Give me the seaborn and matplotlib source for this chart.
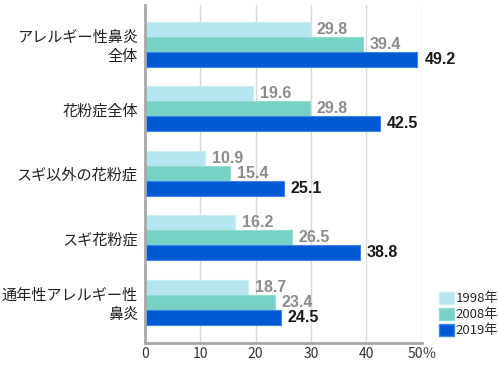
import pandas as pd
import seaborn as sns
import matplotlib.pyplot as plt
from matplotlib.patches import Patch

sns.set_style('white')
plt.rcParams['font.family'] = ['Liberation Sans', 'Noto Sans CJK JP', 'DejaVu Sans']

categories = ['アレルギー性鼻炎\n全体', '花粉症全体', 'スギ以外の花粉症', 'スギ花粉症', '通年性アレルギー性\n鼻炎']
years = ['1998年', '2008年', '2019年']
values_1998 = [29.8, 19.6, 10.9, 16.2, 18.7]
values_2008 = [39.4, 29.8, 15.4, 26.5, 23.4]
values_2019 = [49.2, 42.5, 25.1, 38.8, 24.5]
colors = ['#b5e6ef', '#78d1c5', '#0059d2']
edges = ['#c8eef4', '#93dcd2', '#3d86e6']
xticks = [0, 10, 20, 30, 40, 50]
xtick_labels = ['0', '10', '20', '30', '40', '50％']

df = pd.DataFrame({
    'category': categories * 3,
    'year': [years[0]] * 5 + [years[1]] * 5 + [years[2]] * 5,
    'value': values_1998 + values_2008 + values_2019,
})

fig = plt.figure(figsize=(4.98, 3.66), dpi=100)
ax = fig.add_axes([0.291, 0.063, 0.556, 0.923])

sns.barplot(data=df, y='category', x='value', hue='year', hue_order=years,
            palette=colors, orient='h', width=0.7, saturation=1, legend=False, ax=ax)

for i, cont in enumerate(ax.containers):
    for bar in cont:
        bar.set_edgecolor(edges[i])
        bar.set_linewidth(0.8)
    if i == 2:
        ax.bar_label(cont, fmt='%.1f', padding=5, fontsize=11.5, fontweight='bold', color='#1a1a1a')
    else:
        ax.bar_label(cont, fmt='%.1f', padding=5, fontsize=11.5, fontweight='bold', color='#8c8c8c')

ax.set_xlim(0, 50)
ax.set_ylim(4.63, -0.61)
ax.set_xticks(xticks)
ax.set_xticklabels(xtick_labels, fontsize=10, color='#333333', family=['Noto Sans CJK JP', 'DejaVu Sans'])
ax.set_xlabel('')
ax.set_ylabel('')
ax.tick_params(axis='y', length=0, pad=5)
ax.tick_params(axis='x', length=0, pad=3)
for lab in ax.get_yticklabels():
    lab.set_fontsize(10.9)
    lab.set_color('#222222')
    lab.set_family(['Noto Sans CJK JP', 'DejaVu Sans'])
    lab.set_linespacing(1.1)
    lab.set_horizontalalignment('right')

ax.grid(axis='x', color='#d9d9d9', linewidth=1)
ax.set_axisbelow(True)
for side in ['top', 'right']:
    ax.spines[side].set_visible(False)
ax.spines['left'].set_color('#a8a8a8')
ax.spines['left'].set_linewidth(2)
ax.spines['bottom'].set_color('#a8a8a8')
ax.spines['bottom'].set_linewidth(2)

handles = [Patch(facecolor=colors[i], edgecolor=edges[i], label=years[i]) for i in range(3)]
fig.legend(handles=handles, loc='lower left', bbox_to_anchor=(0.882, 0.078), frameon=False,
           handlelength=1.1, handleheight=1.0, handletextpad=0.15,
           labelspacing=0.2, borderpad=0, borderaxespad=0,
           prop={'family': ['Noto Sans CJK JP', 'DejaVu Sans'], 'size': 9.5})

fig.savefig('out.png', dpi=100)
